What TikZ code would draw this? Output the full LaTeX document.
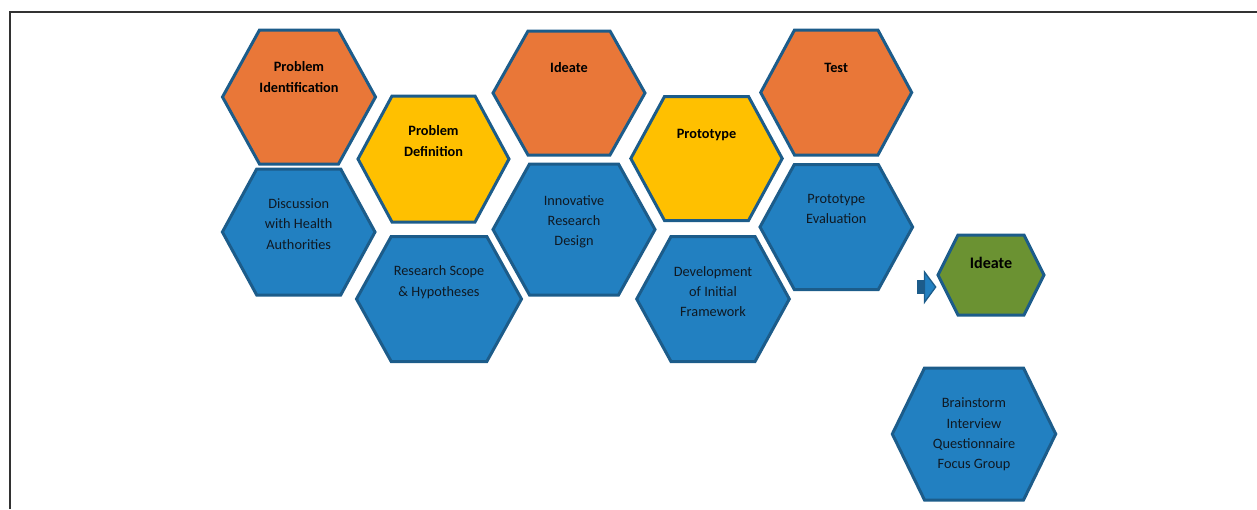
\documentclass[tikz,border=0pt]{standalone}
\usepackage{fontspec}
\setmainfont{Carlito}
\definecolor{hexorange}{RGB}{233,119,56}
\definecolor{hexyellow}{RGB}{255,192,0}
\definecolor{hexblue}{RGB}{34,128,193}
\definecolor{hexgreen}{RGB}{107,146,50}
\definecolor{hexborder}{RGB}{28,92,138}
\definecolor{framegray}{RGB}{50,50,50}
\definecolor{bluetext}{RGB}{15,25,35}
\newcommand\hexshape[6]{% cx cy halfwidth tophalf halfheight fill
  \draw[hexline,fill=#6] (#1-#3,#2) -- (#1-#4,#2-#5) -- (#1+#4,#2-#5) -- (#1+#3,#2)
    -- (#1+#4,#2+#5) -- (#1-#4,#2+#5) -- cycle;}
\begin{document}
\begin{tikzpicture}[x=1pt,y=-1pt,
  hexline/.style={draw=hexborder,line width=3pt,line join=miter},
  lbl/.style={inner sep=0pt,align=center,yshift=-4pt,
    font=\fontsize{14.3}{20.3}\selectfont,
    execute at begin node=\strut,execute at end node=\strut},
  boldlbl/.style={lbl,font=\fontsize{14.3}{20.3}\selectfont\bfseries,text=black},
  bluelbl/.style={lbl,text=bluetext},
  greenlbl/.style={lbl,font=\fontsize{16.1}{20.3}\selectfont\bfseries,text=black}]
\useasboundingbox (0,0) rectangle (1257,509);
% frame
\draw[framegray,line width=2pt] (10.3,509) -- (10.3,11.7) -- (1257,11.7);
% hexagons
\hexshape{299}{97}{76.5}{39.5}{67}{hexorange}
\hexshape{433.5}{159}{75.5}{41.5}{63}{hexyellow}
\hexshape{569}{93}{76}{41}{62}{hexorange}
\hexshape{706.5}{158.5}{75.7}{42}{62}{hexyellow}
\hexshape{836.2}{92.5}{75.5}{41.7}{62.5}{hexorange}
\hexshape{298.7}{232}{76.3}{42}{63}{hexblue}
\hexshape{439}{299}{82.5}{47.8}{62.5}{hexblue}
\hexshape{574}{229.5}{81}{44.5}{65.5}{hexblue}
\hexshape{713}{299}{76.3}{42}{62.5}{hexblue}
\hexshape{836.3}{227}{76.3}{42}{62.5}{hexblue}
\hexshape{991}{275}{53}{33}{40}{hexgreen}
\hexshape{974}{434}{81.7}{49.5}{66}{hexblue}
% labels
\node[boldlbl] (pid) at (299,76) {Problem\\Identification};
\node[boldlbl] (pdef) at (433.5,140) {Problem\\Definition};
\node[boldlbl] (ide) at (569,64) {Ideate};
\node[boldlbl] (pro) at (706.5,130) {Prototype};
\node[boldlbl] (tst) at (836.2,64) {Test};
\node[bluelbl] (dis) at (298.7,223) {Discussion\\with Health\\Authorities};
\node[bluelbl] (rsc) at (439,280) {Research Scope\\\& Hypotheses};
\node[bluelbl] (inn) at (574,219.5) {Innovative\\Research\\Design};
\node[bluelbl] (dev) at (713,290.5) {Development\\of Initial\\Framework};
\node[bluelbl] (pev) at (836.3,208) {Prototype\\Evaluation};
\node[greenlbl] (gid) at (991,260) {Ideate};
\node[bluelbl] (bst) at (974,432.5) {Brainstorm\\Interview\\Questionnaire\\Focus Group};
% small block arrow
\fill[hexborder] (916.7,280) rectangle (925,294.3);
\draw[fill=hexblue,draw=hexborder,line width=1.3pt,line join=miter]
  (924.5,280.5) -- (924.5,272) -- (935.7,287) -- (924.5,302.3) -- (924.5,293.8) -- cycle;
\end{tikzpicture}
\end{document}
